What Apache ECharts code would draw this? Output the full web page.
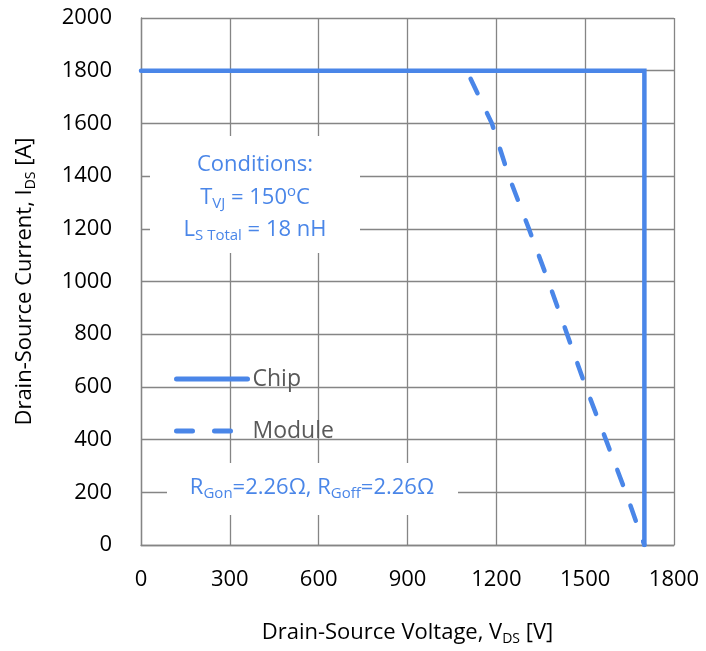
<!DOCTYPE html>
<html>
<head>
<meta charset="utf-8">
<script src="https://cdn.jsdelivr.net/npm/echarts@6/dist/echarts.min.js"></script>
<style>
html,body{margin:0;padding:0;background:#fff;}
#chart{width:706px;height:651px;}
</style>
</head>
<body>
<div id="chart"></div>
<script>
// ---- data ----
const seriesNames = ['Chip', 'Module'];
const chipV = [0, 1700, 1700];
const chipI = [1800, 1800, 0];
const moduleV = [1100, 1185, 1242, 1310, 1376, 1439, 1502, 1570, 1637, 1700];
const moduleI = [1800, 1600, 1400, 1200, 1000, 800, 600, 400, 200, 0];
const xTicks = [0, 300, 600, 900, 1200, 1500, 1800];
const yTicks = [0, 200, 400, 600, 800, 1000, 1200, 1400, 1600, 1800, 2000];

const FONT = '"Open Sans", "Noto Sans", sans-serif';
const BLUE = '#4a86e8';
const GRID = '#858585';

const zip = (a, b) => a.map((v, i) => [v, b[i]]);

const chart = echarts.init(document.getElementById('chart'), null, {renderer: 'canvas'});

const subRich = {
  sub: {fontSize: 14, fontFamily: FONT, color: '#000', padding: [12, 0, 0, 0]}
};
const blueRich = {
  sub: {fontSize: 15, fontFamily: FONT, color: BLUE, padding: [12, 0, 0, 0]},
  sup: {fontSize: 15, fontFamily: FONT, color: BLUE, padding: [0, 0, 13, 0]}
};

chart.setOption({
  animation: false,
  backgroundColor: '#fff',
  grid: {left: 141, right: 32, top: 18, bottom: 106, containLabel: false},
  xAxis: {
    type: 'value', min: xTicks[0], max: xTicks[xTicks.length - 1], interval: xTicks[1] - xTicks[0],
    name: 'Drain-Source Voltage, V{sub|DS} [V]',
    nameLocation: 'middle', nameGap: 75,
    nameTextStyle: {fontSize: 22, fontFamily: FONT, color: '#000', rich: subRich},
    axisLine: {show: true, lineStyle: {color: GRID, width: 1.3}},
    axisTick: {show: false},
    axisLabel: {fontSize: 22, fontFamily: FONT, color: '#000', margin: 24, formatter: v => String(v)},
    splitLine: {show: true, lineStyle: {color: GRID, width: 1.3}}
  },
  yAxis: {
    type: 'value', min: yTicks[0], max: yTicks[yTicks.length - 1], interval: yTicks[1] - yTicks[0],
    name: 'Drain-Source Current, I{sub|DS} [A]',
    nameLocation: 'middle', nameGap: 103, nameRotate: 90,
    nameTextStyle: {fontSize: 22, fontFamily: FONT, color: '#000', rich: subRich},
    axisLine: {show: true, lineStyle: {color: GRID, width: 1.3}},
    axisTick: {show: false},
    axisLabel: {fontSize: 22, fontFamily: FONT, color: '#000', margin: 29, formatter: v => String(v)},
    splitLine: {show: true, lineStyle: {color: GRID, width: 1.3}}
  },
  legend: {
    data: seriesNames,
    orient: 'vertical',
    left: 174, top: 366, padding: 0,
    itemWidth: 71, itemHeight: 20, itemGap: 26,
    itemStyle: {opacity: 0},
    lineStyle: {width: 5, dashOffset: 0},
    textStyle: {fontSize: 23, fontFamily: FONT, color: '#595959', lineHeight: 26}
  },
  graphic: [
    {type: 'rect', z: 1, shape: {x: 150, y: 136, width: 210, height: 117}, style: {fill: '#fff'}},
    {type: 'rect', z: 1, shape: {x: 167, y: 463, width: 291, height: 52}, style: {fill: '#fff'}},
    {type: 'text', z: 10, x: 255, y: 165, style: {text: 'Conditions:', fill: BLUE, fontSize: 22, fontFamily: FONT, align: 'center', verticalAlign: 'middle'}},
    {type: 'text', z: 10, x: 255, y: 198, style: {text: 'T{sub|VJ} = 150{sup|o}C', fill: BLUE, fontSize: 22, fontFamily: FONT, align: 'center', verticalAlign: 'middle', rich: blueRich}},
    {type: 'text', z: 10, x: 255, y: 230, style: {text: 'L{sub|S Total} = 18 nH', fill: BLUE, fontSize: 22, fontFamily: FONT, align: 'center', verticalAlign: 'middle', rich: blueRich}},
    {type: 'text', z: 10, x: 312, y: 488, style: {text: 'R{sub|Gon}=2.26Ω, R{sub|Goff}=2.26Ω', fill: BLUE, fontSize: 22, fontFamily: FONT, align: 'center', verticalAlign: 'middle', rich: blueRich}}
  ],
  series: [
    {
      name: seriesNames[0], type: 'line', data: zip(chipV, chipI),
      symbol: 'none', z: 3,
      lineStyle: {color: BLUE, width: 4.5, cap: 'round', join: 'miter'},
      itemStyle: {color: BLUE}
    },
    {
      name: seriesNames[1], type: 'line', data: zip(moduleV, moduleI),
      symbol: 'none', z: 3,
      lineStyle: {color: BLUE, width: 4.5, type: [16, 22], dashOffset: 29, cap: 'round'},
      itemStyle: {color: BLUE}
    }
  ]
});
</script>
</body>
</html>
